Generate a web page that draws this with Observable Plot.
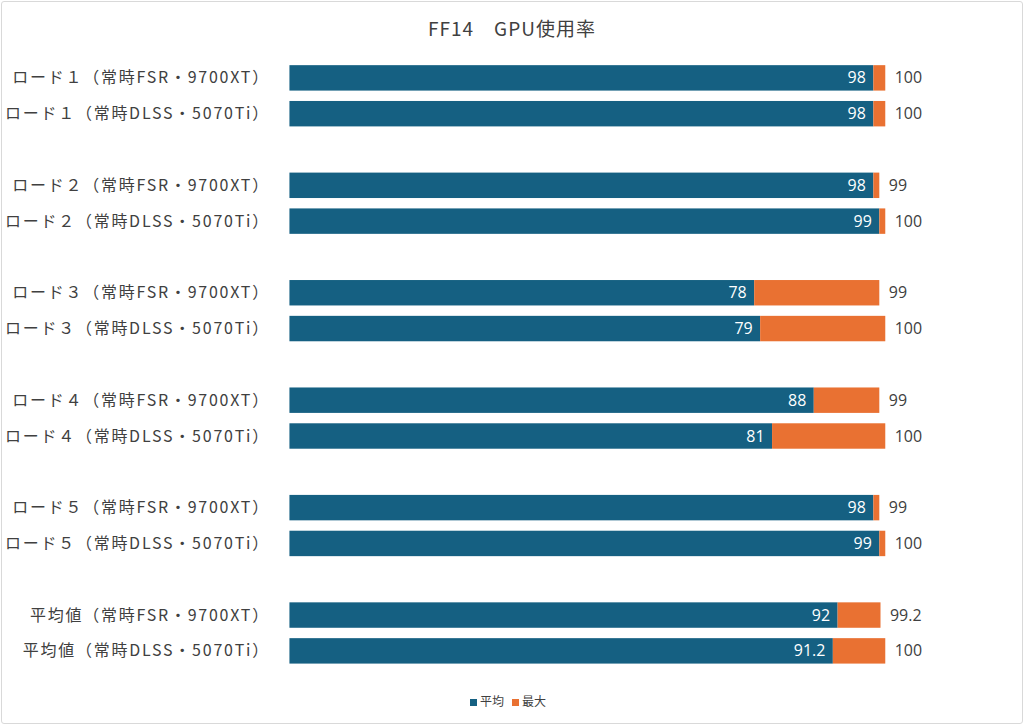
<!DOCTYPE html>
<html>
<head>
<meta charset="utf-8">
<script src="https://cdn.jsdelivr.net/npm/d3@7"></script>
<script src="https://cdn.jsdelivr.net/npm/@observablehq/plot@0.6"></script>
<style>
  html, body { margin: 0; padding: 0; background: #fff; }
  #frame {
    position: relative; width: 1020px; height: 721px; margin: 1px;
    border: 1px solid #d9d9d9; border-radius: 3px; box-sizing: content-box;
    font-family: "Noto Sans CJK JP", "Noto Sans", sans-serif; color: #404040;
    overflow: hidden;
  }
  #title { position: absolute; left: 0; top: 12px; width: 1020px; text-align: center; font-size: 19px; letter-spacing: 1px; color: #404040; }
  #chart { position: absolute; left: -2px; top: 42px; }
  #legend { position: absolute; left: -4px; top: 690px; width: 1020px; text-align: center; font-size: 12px; color: #404040; }
  #legend span.sw { display: inline-block; width: 7px; height: 7px; margin-right: 3px; vertical-align: 0px; }
  #legend span.item { margin: 0 4px; }
</style>
</head>
<body>
<div id="frame">
  <div id="title">FF14　GPU使用率</div>
  <div id="chart"></div>
  <div id="legend"></div>
</div>
<script>
const categories = [
  "ロード１（常時FSR・9700XT）",
  "ロード１（常時DLSS・5070Ti）",
  "ロード２（常時FSR・9700XT）",
  "ロード２（常時DLSS・5070Ti）",
  "ロード３（常時FSR・9700XT）",
  "ロード３（常時DLSS・5070Ti）",
  "ロード４（常時FSR・9700XT）",
  "ロード４（常時DLSS・5070Ti）",
  "ロード５（常時FSR・9700XT）",
  "ロード５（常時DLSS・5070Ti）",
  "平均値（常時FSR・9700XT）",
  "平均値（常時DLSS・5070Ti）"
];
const avgValues = [98, 98, 98, 99, 78, 79, 88, 81, 98, 99, 92, 91.2];
const maxValues = [100, 100, 99, 100, 99, 100, 99, 100, 99, 100, 99.2, 100];
const seriesNames = ["平均", "最大"];
const seriesColors = ["#156082", "#E97132"];

const data = categories.map((c, i) => ({ cat: c, avg: avgValues[i], max: maxValues[i] }));

// y domain: pairs separated by blank spacer rows
const domain = [];
categories.forEach((c, i) => {
  domain.push(c);
  if (i % 2 === 1 && i < categories.length - 1) domain.push("spacer" + i);
});

const font = '"Noto Sans CJK JP", "Noto Sans", sans-serif';
const numFont = '"Open Sans", "Noto Sans", sans-serif';

const chart = Plot.plot({
  width: 1024,
  height: 640,
  marginLeft: 290,
  marginRight: 137,
  marginTop: 16,
  marginBottom: 14,
  style: { fontFamily: font, fontSize: "16px", color: "#404040", background: "transparent" },
  x: { domain: [0, 100], axis: null },
  y: { domain, paddingInner: 0.29, paddingOuter: 0.145, round: false, axis: null },
  marks: [
    Plot.barX(data, { y: "cat", x1: 0, x2: "avg", fill: seriesColors[0] }),
    Plot.barX(data, { y: "cat", x1: "avg", x2: "max", fill: seriesColors[1] }),
    Plot.text(data, { y: "cat", x: "avg", text: d => String(d.avg), textAnchor: "end", dx: -8, fill: "white", fontSize: 16, fontFamily: numFont }),
    Plot.text(data, { y: "cat", x: "max", text: d => String(d.max), textAnchor: "start", dx: 9, fill: "#404040", fontSize: 16, fontFamily: numFont }),
    Plot.axisY(categories, { tickSize: 0, tickPadding: 20, fontSize: 16, fill: "#404040", label: null })
  ]
});
chart.querySelectorAll('[aria-label="y-axis tick label"] text').forEach(t => t.setAttribute("letter-spacing", "1.8"));
document.getElementById("chart").appendChild(chart);

const legend = document.getElementById("legend");
seriesNames.forEach((n, i) => {
  const item = document.createElement("span");
  item.className = "item";
  const sw = document.createElement("span");
  sw.className = "sw";
  sw.style.background = seriesColors[i];
  item.appendChild(sw);
  item.appendChild(document.createTextNode(n));
  legend.appendChild(item);
});
</script>
</body>
</html>
